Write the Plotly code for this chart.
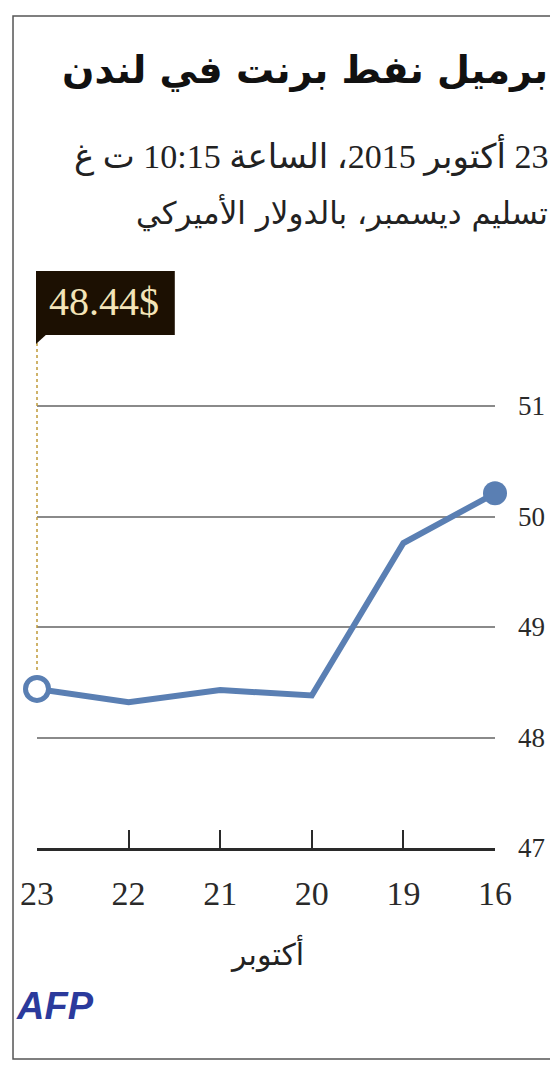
import plotly.graph_objects as go

# Data
dates = ["23", "22", "21", "20", "19", "16"]
prices = [48.44, 48.32, 48.43, 48.38, 49.76, 50.21]
y_ticks = [47, 48, 49, 50, 51]
title = "برميل نفط برنت في لندن"
subtitle1 = "23 أكتوبر 2015، الساعة 10:15 ت غ"
subtitle2 = "تسليم ديسمبر، بالدولار الأميركي"
month_label = "أكتوبر"
last_label = "48.44$"

RLE, PDF = "\u202b", "\u202c"

# page body has an 8px margin; figure sized to fit the window
OFF = 8
W, H = 550, 1061
L, R, T, B = 25, 63, 312, 221
PW, PH = W - L - R, H - T - B
UNIT = 110.5  # pixels per dollar


def px(p):
    return (p - OFF - L) / PW


def py(p):
    return (H - B - (p - OFF)) / PH


xs = list(range(len(dates)))
line_color = "#5a7fb3"

fig = go.Figure()
fig.add_trace(go.Scatter(
    x=xs, y=prices, mode="lines",
    line=dict(color=line_color, width=6),
    cliponaxis=False, hoverinfo="skip", showlegend=False))
fig.add_trace(go.Scatter(
    x=[xs[0]], y=[prices[0]], mode="markers",
    marker=dict(size=23, color="white", line=dict(color=line_color, width=5)),
    cliponaxis=False, showlegend=False))
fig.add_trace(go.Scatter(
    x=[xs[-1]], y=[prices[-1]], mode="markers",
    marker=dict(size=24, color=line_color),
    cliponaxis=False, showlegend=False))

serif = "Liberation Serif, DejaVu Serif, serif"
arab = "DejaVu Sans, Liberation Serif, sans-serif"
mixed = "Liberation Serif, DejaVu Sans, serif"

fig.update_layout(
    width=W, height=H,
    margin=dict(l=L, r=R, t=T, b=B),
    paper_bgcolor="white", plot_bgcolor="white",
    xaxis=dict(
        range=[0, len(dates) - 1], tickmode="array", tickvals=xs, ticktext=dates,
        showgrid=False, zeroline=False, showline=True, linecolor="#2a2a2a", linewidth=3,
        ticks="inside", ticklen=18, tickwidth=1.5, tickcolor="#2a2a2a",
        tickfont=dict(family=serif, size=34, color="#2a2a2a"), ticklabelstandoff=13,
        fixedrange=True),
    yaxis=dict(
        range=[47, 47 + PH / UNIT], side="right", tickmode="array", tickvals=y_ticks,
        showgrid=True, gridcolor="#8a8a8a", gridwidth=1.5, zeroline=False, showline=False,
        ticks="", tickfont=dict(family=serif, size=27, color="#2a2a2a"), ticklabelstandoff=22,
        fixedrange=True),
    shapes=[
        dict(type="rect", xref="paper", yref="paper", x0=px(8.8), x1=px(580), y0=py(1059), y1=py(16),
             line=dict(color="#555", width=1.5), fillcolor="rgba(0,0,0,0)", layer="below"),
        dict(type="line", xref="paper", yref="paper", x0=0, x1=0, y0=py(670), y1=py(340),
             line=dict(color="#c09a3a", width=1.5, dash="dot")),
        dict(type="rect", xref="paper", yref="paper", x0=px(32), x1=px(172), y0=py(335), y1=py(271),
             line=dict(width=0), fillcolor="#1c1002"),
        dict(type="path", xref="paper", yref="paper",
             path=f"M {px(32)},{py(334)} L {px(32)},{py(344)} L {px(43)},{py(334)} Z",
             line=dict(width=0), fillcolor="#1c1002"),
    ],
    annotations=[
        dict(text=f"<b>{RLE}{title}{PDF}</b>", xref="paper", yref="paper", x=px(550), y=py(70),
             xanchor="right", yanchor="middle", showarrow=False,
             font=dict(family=arab, size=38, color="#111")),
        dict(text=f"{RLE}{subtitle1}{PDF}", xref="paper", yref="paper", x=px(550), y=py(155),
             xanchor="right", yanchor="middle", showarrow=False,
             font=dict(family=mixed, size=34, color="#222")),
        dict(text=f"{RLE}{subtitle2}{PDF}", xref="paper", yref="paper", x=px(550), y=py(213),
             xanchor="right", yanchor="middle", showarrow=False,
             font=dict(family=arab, size=31, color="#222")),
        dict(text=last_label, xref="paper", yref="paper", x=px(101), y=py(302),
             xanchor="center", yanchor="middle", showarrow=False,
             font=dict(family=serif, size=40, color="#f3e4b8")),
        dict(text=month_label, xref="paper", yref="paper", x=px(265), y=py(953),
             xanchor="center", yanchor="middle", showarrow=False,
             font=dict(family=arab, size=30, color="#222")),
        dict(text="<b><i>AFP</i></b>", xref="paper", yref="paper", x=px(10), y=py(1006),
             xanchor="left", yanchor="middle", showarrow=False,
             font=dict(family="Liberation Sans, Arial, sans-serif", size=38, color="#2b3a9c")),
    ],
)

fig.write_html("out.html")
